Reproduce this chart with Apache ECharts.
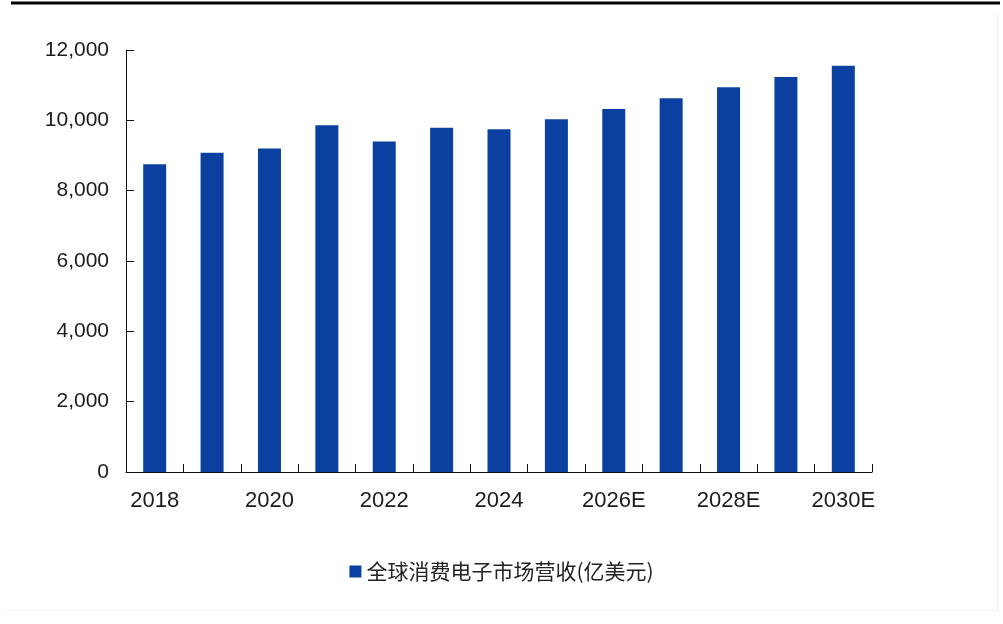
<!DOCTYPE html>
<html>
<head>
<meta charset="utf-8">
<script src="https://cdn.jsdelivr.net/npm/echarts@6/dist/echarts.min.js"></script>
<style>
  html, body { margin: 0; padding: 0; background: #ffffff; }
  #chart { width: 1003px; height: 624px; }
</style>
</head>
<body>
<div id="chart"></div>
<script>
// Global consumer electronics market revenue (100 million USD), 2018–2030E
const years = ['2018', '2019', '2020', '2021', '2022', '2023', '2024', '2025', '2026E', '2027E', '2028E', '2029E', '2030E'];
const revenue = [8750, 9080, 9200, 9860, 9400, 9790, 9750, 10030, 10320, 10630, 10940, 11230, 11550];
const seriesName = '全球消费电子市场营收(亿美元)';
const yTicks = { min: 0, max: 12000, interval: 2000 };

const chart = echarts.init(document.getElementById('chart'), null, { renderer: 'canvas' });

const numFont = '"Liberation Sans", Arial, sans-serif';
const textColor = '#1c1c1c';

chart.setOption({
  animation: false,
  backgroundColor: '#ffffff',
  grid: { left: 126, right: 131, top: 50, bottom: 152, containLabel: false },
  legend: {
    show: true,
    data: [seriesName],
    top: 556,
    left: 'center',
    icon: 'rect',
    itemWidth: 12,
    itemHeight: 12,
    itemGap: 6,
    textStyle: { fontSize: 21, color: '#222222', fontFamily: '"Noto Sans CJK SC", sans-serif' }
  },
  xAxis: {
    type: 'category',
    data: years,
    boundaryGap: true,
    axisLine: { show: true, lineStyle: { color: '#111111', width: 1 } },
    axisTick: { show: true, inside: true, length: 8, interval: 0, lineStyle: { color: '#111111' } },
    axisLabel: {
      interval: 1,
      margin: 18,
      fontSize: 22,
      color: textColor,
      fontFamily: numFont
    },
    splitLine: { show: false }
  },
  yAxis: {
    type: 'value',
    min: yTicks.min,
    max: yTicks.max,
    interval: yTicks.interval,
    axisLine: { show: true, lineStyle: { color: '#111111', width: 1 } },
    axisTick: { show: true, inside: true, length: 8, lineStyle: { color: '#111111' } },
    axisLabel: {
      margin: 17,
      fontSize: 21,
      color: textColor,
      fontFamily: numFont,
      formatter: v => v.toLocaleString('en-US')
    },
    splitLine: { show: false }
  },
  series: [{
    name: seriesName,
    type: 'bar',
    data: revenue,
    barWidth: 23,
    itemStyle: { color: '#0b40a0' }
  }],
  graphic: [
    // heavy rule across the top of the page
    { type: 'line', shape: { x1: 11, y1: 3, x2: 1000, y2: 3 }, style: { stroke: '#000000', lineWidth: 3 }, silent: true },
    // faint frame on the right and bottom
    { type: 'line', shape: { x1: 997.5, y1: 13, x2: 997.5, y2: 611 }, style: { stroke: '#f0f0f0', lineWidth: 1 }, silent: true },
    { type: 'line', shape: { x1: 5, y1: 610.5, x2: 997, y2: 610.5 }, style: { stroke: '#f3f3f3', lineWidth: 1 }, silent: true }
  ]
});
</script>
</body>
</html>
